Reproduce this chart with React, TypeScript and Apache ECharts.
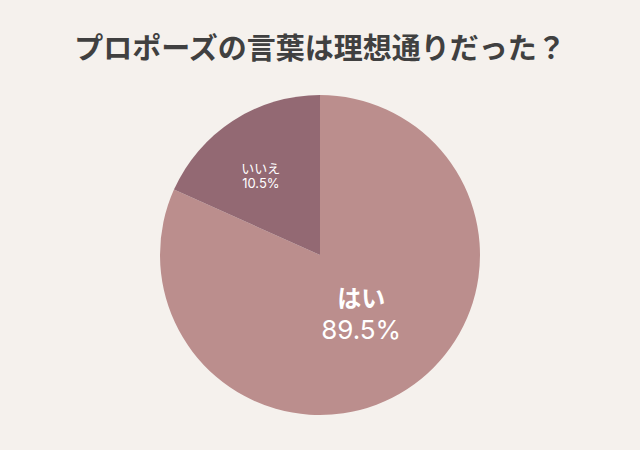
import React, { useEffect, useRef } from 'react';
import * as echarts from 'echarts';

const categories = ['はい', 'いいえ'];
// slice shares as drawn in the picture
const sliceValues = [81.7, 18.3];
// percentages printed on the slices
const labelPercents = ['89.5%', '10.5%'];
const colors = ['#bb8e8d', '#936973'];

const FONT = 'Inter, "Noto Sans CJK JP", sans-serif';

const App: React.FC = () => {
  const chartRef = useRef<HTMLDivElement>(null);

  useEffect(() => {
    if (!chartRef.current) return;
    document.body.style.margin = '0';
    const chart = echarts.init(chartRef.current, null, { renderer: 'svg' });

    const option = {
      animation: false,
      backgroundColor: '#f5f1ed',
      title: {
        text: 'プロポーズの言葉は理想通りだった？',
        left: 'center',
        top: 26,
        textStyle: {
          fontFamily: 'Noto Sans CJK JP',
          fontSize: 29,
          fontWeight: 'bold',
          color: '#404040',
        },
      },
      series: [
        {
          type: 'pie',
          center: [320, 255],
          radius: [0, 160],
          startAngle: 90,
          clockwise: true,
          silent: true,
          label: {
            show: true,
            position: 'inside',
            fontFamily: FONT,
            color: '#ffffff',
          },
          labelLine: { show: false },
          data: categories.map((name, i) => ({
            name,
            value: sliceValues[i],
            itemStyle: { color: colors[i] },
            label:
              i === 0
                ? {
                    formatter: `{a|${name}}\n{b|${labelPercents[i]}}`,
                    rich: {
                      a: { fontSize: 24, fontWeight: 'bold', color: '#fff', lineHeight: 34, fontFamily: 'Noto Sans CJK JP' },
                      b: { fontSize: 26, color: '#fff', lineHeight: 32, fontFamily: FONT },
                    },
                  }
                : {
                    formatter: `{a|${name}}\n{b|${labelPercents[i]}}`,
                    rich: {
                      a: { fontSize: 13, color: '#fff', lineHeight: 16, fontFamily: 'Noto Sans CJK JP' },
                      b: { fontSize: 13, color: '#fff', lineHeight: 16, fontFamily: FONT },
                    },
                  },
          })),
          labelLayout: (params: any) =>
            params.dataIndex === 0 ? { dx: -4, dy: -12 } : { dx: -14, dy: -10 },
        },
      ],
    };

    chart.setOption(option);
    return () => {
      chart.dispose();
    };
  }, []);

  return <div ref={chartRef} style={{ width: 640, height: 450 }} />;
};

export default App;
